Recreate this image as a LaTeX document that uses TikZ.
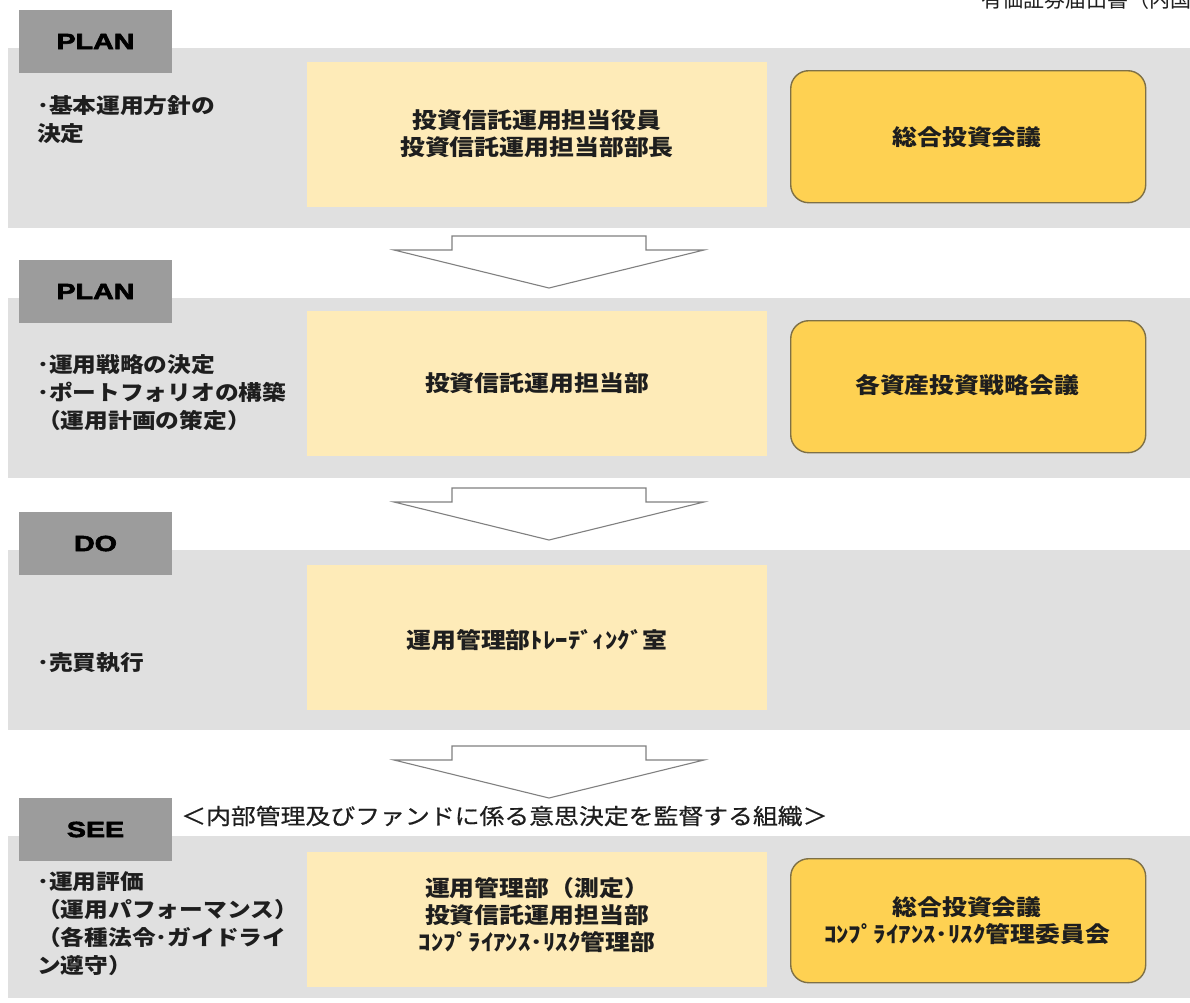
\documentclass[tikz,border=0pt]{standalone}
\usepackage{fontspec}
\usepackage{graphicx}
\setmainfont{Liberation Sans}
\newfontfamily\heavy{Liberation Sans}[FakeBold=2.5]
\newfontfamily\jp{Noto Sans CJK JP}
\newfontfamily\jpm{Noto Sans CJK JP}[FakeBold=0.6]
\definecolor{bandgray}{HTML}{E0E0E0}
\definecolor{labelgray}{HTML}{9C9C9C}
\definecolor{lightyellow}{HTML}{FEEBB8}
\definecolor{orangefill}{HTML}{FED152}
\definecolor{orangedraw}{HTML}{7E7046}
\definecolor{arrowdraw}{HTML}{808080}
\definecolor{inktext}{HTML}{1E1E1E}
\newcommand{\sx}[1]{\scalebox{1.13}[1]{#1}}
\newcommand{\lx}[1]{\scalebox{1.13}[1]{#1}}
\tikzset{
  x=1pt, y=-1pt,
  band/.style={fill=bandgray, draw=none, inner sep=0pt, outer sep=0pt, anchor=north west, minimum width=1182pt, minimum height=180pt},
  phase/.style={fill=labelgray, draw=none, inner sep=0pt, outer sep=0pt, anchor=north west, minimum width=153pt, minimum height=63pt, font=\heavy\bfseries\fontsize{22}{26}\selectfont, text=black},
  ybox/.style={fill=lightyellow, draw=none, inner sep=0pt, outer sep=0pt, anchor=north west, minimum width=460pt},
  obox/.style={fill=orangefill, draw=orangedraw, line width=1.4pt, rounded corners=18pt, inner sep=0pt, anchor=north west, minimum width=355pt},
  boxtext/.style={align=center, inner sep=0pt, text=inktext, font=\jp\bfseries\fontsize{22}{27}\selectfont},
  lefttext/.style={align=left, inner sep=0pt, anchor=north west, text=inktext, font=\jp\bfseries\fontsize{21}{28}\selectfont},
  downarrow/.style={fill=white, draw=arrowdraw, line width=1.1pt, line join=miter},
}
\newcommand{\bigarrow}[2]{% center x, top y
  \draw[downarrow] (#1-97,#2) -- (#1+97,#2) -- (#1+97,#2+14) -- (#1+155,#2+14)
    -- (#1,#2+52) -- (#1-155,#2+14) -- (#1-97,#2+14) -- cycle;}
\begin{document}
\begin{tikzpicture}
\useasboundingbox (0,0) rectangle (1190,1002);
\fill[white] (0,0) rectangle (1190,1002);

% header (cut off at the page edge, as in the reference)
\node[anchor=west, inner sep=0pt, text=inktext, font=\jp\fontsize{21}{24}\selectfont] (hdr) at (981,0) {有価証券届出書（内国投資信託受益証券）};

% bands
\node[band] (b1) at (8,48) {};
\node[band] (b2) at (8,298) {};
\node[band] (b3) at (8,550) {};
\node[band, minimum height=162pt] (b4) at (8,836) {};

% phase labels
\node[phase] (l1) at (19,10) {\scalebox{1.3}[1]{PLAN}};
\node[phase] (l2) at (19,260) {\scalebox{1.3}[1]{PLAN}};
\node[phase] (l3) at (19,512) {\scalebox{1.3}[1]{DO}};
\node[phase] (l4) at (19,798) {\scalebox{1.3}[1]{SEE}};

% yellow boxes
\node[ybox, minimum height=145pt] (y1) at (307,62) {};
\node[ybox, minimum height=145pt] (y2) at (307,311) {};
\node[ybox, minimum height=145pt] (y3) at (307,565) {};
\node[ybox, minimum height=135pt] (y4) at (307,852) {};

% orange boxes
\node[obox, minimum height=132pt] (o1) at (790,70) {};
\node[obox, minimum height=132pt] (o2) at (790,320) {};
\node[obox, minimum height=124pt] (o4) at (790,858) {};

% arrows
\bigarrow{549}{236}
\bigarrow{549}{488}
\bigarrow{549}{746}

% left texts
\node[lefttext] (t1) at (37,95) {\lx{･基本運用方針の}\\\lx{決定}};
\node[lefttext] (t2) at (37,354) {\lx{･運用戦略の決定}\\\lx{･ポートフォリオの構築}\\\lx{（運用計画の策定）}};
\node[lefttext] (t3) at (37,652) {\lx{･売買執行}};
\node[lefttext] (t4) at (37,871) {\lx{･運用評価}\\\lx{（運用パフォーマンス）}\\\lx{（各種法令･ガイドライ}\\\lx{ン遵守）}};

% box texts
\node[boxtext] (y1t) at (537,134) {\sx{投資信託運用担当役員}\\\sx{投資信託運用担当部部長}};
\node[boxtext] (o1t) at (967,137) {\sx{総合投資会議}};
\node[boxtext] (y2t) at (537,383) {\sx{投資信託運用担当部}};
\node[boxtext] (o2t) at (967,385) {\sx{各資産投資戦略会議}};
\node[boxtext] (y3t) at (537,640) {\sx{運用管理部ﾄﾚｰﾃﾞｨﾝｸﾞ室}};
\node[boxtext] (y4t) at (537,915) {\sx{運用管理部（測定）}\\\sx{投資信託運用担当部}\\\sx{ｺﾝﾌﾟﾗｲｱﾝｽ･ﾘｽｸ管理部}};
\node[boxtext] (o4t) at (967,921) {\sx{総合投資会議}\\\sx{ｺﾝﾌﾟﾗｲｱﾝｽ･ﾘｽｸ管理委員会}};

% caption
\node[anchor=west, inner sep=0pt, text=inktext, font=\jpm\fontsize{22}{26}\selectfont] (cap) at (181,816) {\sx{＜内部管理及びファンドに係る意思決定を監督する組織＞}};
\end{tikzpicture}
\end{document}
